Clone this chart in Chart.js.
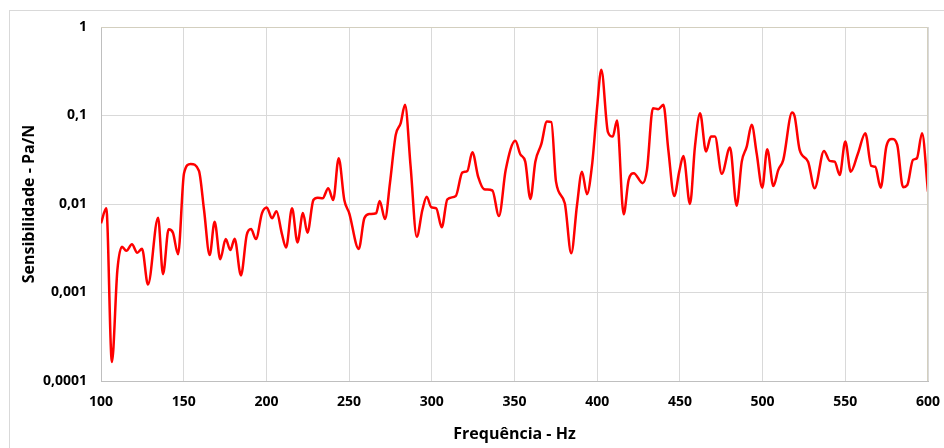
<!DOCTYPE html>
<html lang="pt">
<head>
  <meta charset="UTF-8">
  <title>Sensibilidade - Pa/N</title>
  <script src="https://cdn.jsdelivr.net/npm/chart.js"></script>
  <style>
    html, body {
      margin: 0;
      padding: 0;
      background: #ffffff;
      overflow: hidden;
    }
    #frame {
      position: absolute;
      left: 9px;
      top: 10px;
      width: 940px;
      height: 445px;
      border: 1px solid #d9d9d9;
    }
    #wrap {
      position: absolute;
      left: 0;
      top: 0;
      width: 944px;
      height: 448px;
    }
  </style>
</head>
<body>
  <div id="frame"></div>
  <div id="wrap"><canvas id="sensChart" width="944" height="448"></canvas></div>

  <script>
    // frequência (Hz) e sensibilidade (Pa/N)
    const freq = [
      100, 103.2, 106.6, 109.9, 112.7, 115.3, 118.7, 121.9, 124.8, 128.4,
      134.5, 137.5, 140.9, 143.5, 146.6, 150.2, 154.2, 159.2, 162.3, 165.7,
      168.7, 172.1, 175.4, 178.2, 180.8, 184.6, 188.1, 190.7, 193.7, 197.3,
      200.2, 203.4, 206.1, 209.3, 211.9, 215.5, 218.8, 222.1, 224.8, 228.4,
      231, 234, 237.4, 240.4, 243.7, 247.1, 250.1, 255.8, 259.2, 262.2,
      266.3, 268.5, 271.7, 274.7, 278.2, 281.2, 283.8, 287.2, 290.9, 294.3,
      296.9, 299.7, 302.7, 306, 309.4, 314.5, 318.4, 321.5, 324.5, 328.1,
      331.6, 336.6, 340.6, 344.7, 350.5, 353.5, 356.5, 359.6, 362.6, 366.2,
      369.6, 372.3, 375.1, 380.4, 384.3, 387.8, 390.8, 393.8, 396.9, 399.9,
      402.5, 406.5, 409.4, 412, 416, 419, 422.1, 427.5, 430.1, 433.7,
      436.9, 440, 443, 446.6, 449.6, 452.1, 456.1, 459.1, 462.2, 465.8,
      468.8, 471.2, 475.3, 480.3, 484.3, 487.4, 490.4, 493.4, 496.4, 499.8,
      502.8, 506.5, 509.5, 512.5, 517.8, 519.4, 522.4, 527.5, 531.5, 537.1,
      540.6, 543.6, 546.6, 550, 553.3, 557.7, 562.1, 565.7, 568.1, 571.4,
      574.8, 578.2, 581.4, 584.9, 587.5, 590.9, 593.3, 596.4, 600
    ];
    const sens = [
      0.00605, 0.00894, 0.000164, 0.00179, 0.00329, 0.00296, 0.0035, 0.00281, 0.00312, 0.00123,
      0.0070, 0.00161, 0.00517, 0.00473, 0.0027, 0.0223, 0.0284, 0.0238, 0.00855, 0.00265,
      0.0063, 0.00238, 0.00402, 0.00302, 0.00405, 0.00156, 0.00446, 0.00521, 0.00402, 0.00785,
      0.00912, 0.00689, 0.00826, 0.00466, 0.00322, 0.00894, 0.00368, 0.00791, 0.00473, 0.0111,
      0.0118, 0.0116, 0.0151, 0.0111, 0.0329, 0.0111, 0.00785, 0.0031, 0.00689, 0.0077,
      0.00785, 0.0108, 0.00676, 0.0172, 0.0604, 0.082, 0.132, 0.0264, 0.00426, 0.00855,
      0.0121, 0.00918, 0.00894, 0.00545, 0.0113, 0.0123, 0.0226, 0.0236, 0.0385, 0.0201,
      0.0147, 0.0142, 0.00732, 0.0243, 0.0517, 0.0365, 0.0301, 0.0114, 0.0301, 0.0474,
      0.0855, 0.0841, 0.0179, 0.0102, 0.00277, 0.00975, 0.0232, 0.0129, 0.0276, 0.121,
      0.329, 0.0648, 0.0578, 0.0877, 0.00764, 0.0187, 0.0223, 0.0172, 0.0243, 0.121,
      0.118, 0.132, 0.0409, 0.0123, 0.0232, 0.0349, 0.0100, 0.0445, 0.106, 0.0391,
      0.0578, 0.0578, 0.0219, 0.0434, 0.00957, 0.0301, 0.0445, 0.0784, 0.0375, 0.0153,
      0.0416, 0.016, 0.0243, 0.0315, 0.108, 0.0973, 0.0409, 0.0301, 0.0151, 0.0398,
      0.0307, 0.0301, 0.0213, 0.0508, 0.0232, 0.0375, 0.0631, 0.0269, 0.0264, 0.0153,
      0.0445, 0.0544, 0.0466, 0.0155, 0.0164, 0.0315, 0.0329, 0.0631, 0.0138
    ];
    const yTicks = [0.0001, 0.001, 0.01, 0.1, 1];
    const yLabels = ['0,0001', '0,001', '0,01', '0,1', '1'];

    const points = freq.map((f, i) => ({ x: f, y: sens[i] }));

    // moldura superior/direita da área do gráfico
    const plotFrame = {
      id: 'plotFrame',
      afterDraw(chart) {
        const a = chart.chartArea;
        const c = chart.ctx;
        c.save();
        c.strokeStyle = '#d3cfbf';
        c.lineWidth = 1;
        c.beginPath();
        c.moveTo(a.left, a.top + 0.5);
        c.lineTo(a.right - 0.5, a.top + 0.5);
        c.lineTo(a.right - 0.5, a.bottom);
        c.stroke();
        c.restore();
      }
    };

    const tickFont = { family: "'Open Sans', sans-serif", size: 14, weight: 'bold' };
    const titleFont = { family: "'Open Sans', sans-serif", size: 16, weight: 'bold' };

    const ctx = document.getElementById('sensChart').getContext('2d');
    new Chart(ctx, {
      type: 'line',
      data: {
        datasets: [{
          label: 'Sensibilidade',
          data: points,
          borderColor: '#ff0000',
          borderWidth: 2.5,
          pointRadius: 0,
          fill: false,
          cubicInterpolationMode: 'monotone'
        }]
      },
      options: {
        responsive: false,
        animation: false,
        layout: { padding: { left: 0, top: 27, right: 16, bottom: 0 } },
        plugins: {
          legend: { display: false },
          tooltip: { enabled: false }
        },
        scales: {
          x: {
            type: 'linear',
            min: 100,
            max: 600,
            ticks: {
              stepSize: 50,
              color: '#000000',
              font: tickFont,
              padding: 13,
              maxRotation: 0
            },
            grid: { color: '#d9d9d9', drawTicks: false },
            border: { color: '#bfbfbf' },
            title: {
              display: true,
              text: 'Frequência - Hz',
              color: '#000000',
              font: titleFont,
              padding: { top: 8 }
            },
            afterFit(scale) {
              scale.height = 67;
              scale.paddingLeft = 0;
              scale.paddingRight = 0;
            }
          },
          y: {
            type: 'logarithmic',
            min: 0.0001,
            max: 1,
            afterBuildTicks(scale) {
              scale.ticks = yTicks.map(v => ({ value: v }));
            },
            ticks: {
              color: '#000000',
              font: tickFont,
              padding: 14,
              callback: (v) => {
                const i = yTicks.findIndex(t => Math.abs(t - v) / t < 1e-6);
                return i >= 0 ? yLabels[i] : '';
              }
            },
            grid: { color: '#d9d9d9', drawTicks: false },
            border: { color: '#bfbfbf' },
            title: {
              display: true,
              text: 'Sensibilidade - Pa/N',
              color: '#000000',
              font: titleFont,
              padding: { top: 20, bottom: 4 }
            },
            afterFit(scale) {
              scale.width = 101;
              scale.paddingTop = 0;
              scale.paddingBottom = 0;
            }
          }
        }
      },
      plugins: [plotFrame]
    });
  </script>
</body>
</html>
